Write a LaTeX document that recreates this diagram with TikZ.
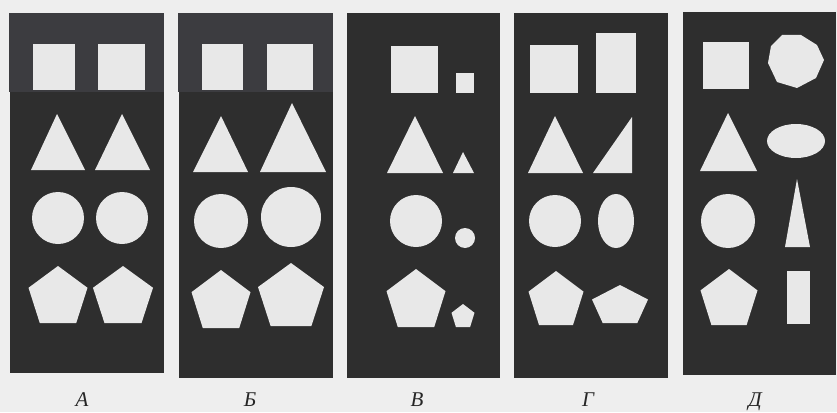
\documentclass[tikz,border=0pt]{standalone}
\usepackage{fontspec}
\newfontfamily\cyrserif{Liberation Serif}
\definecolor{bgcol}{RGB}{238,238,238}
\definecolor{panelcol}{RGB}{46,46,46}
\definecolor{bandcol}{RGB}{60,60,64}
\definecolor{shapecol}{RGB}{232,232,232}
\tikzset{
  panel/.style={fill=panelcol},
  band/.style={fill=bandcol},
  fig/.style={fill=shapecol},
  lbl/.style={font=\cyrserif\itshape\fontsize{21}{21}\selectfont, text=black!85, inner sep=0pt, anchor=base}
}
\newcommand\pentagonfig[4]{% cx, top, halfwidth, bottom
  \fill[fig] (#1,#2) -- ({#1+#3},{#2+0.382*(#4-#2)}) -- ({#1+0.618*#3},#4)
   -- ({#1-0.618*#3},#4) -- ({#1-#3},{#2+0.382*(#4-#2)}) -- cycle;}
\begin{document}
\begin{tikzpicture}[x=1pt,y=-1pt]
\useasboundingbox (0,0) rectangle (837,412);
\fill[bgcol] (0,0) rectangle (837,412);
% panels
\fill[panel] (10,92) rectangle (164,373);
\fill[band] (9,13) rectangle (164,92);
\fill[panel] (179,92) rectangle (333,378);
\fill[band] (178,13) rectangle (333,92);
\fill[panel] (347,13) rectangle (500,378);
\fill[panel] (514,13) rectangle (668,378);
\fill[panel] (683,12) rectangle (836,375);
% ---- Panel A
\fill[fig] (33,44) rectangle (75,90);
\fill[fig] (98,44) rectangle (145,90);
\fill[fig] (57,114) -- (85,170) -- (31,170) -- cycle;
\fill[fig] (122,114) -- (150,170) -- (95,170) -- cycle;
\fill[fig] (58,218) circle (26);
\fill[fig] (122,218) circle (26);
\pentagonfig{58}{266}{29.5}{323}
\pentagonfig{123}{266}{30}{323}
% ---- Panel B
\fill[fig] (202,44) rectangle (243,90);
\fill[fig] (267,44) rectangle (313,90);
\fill[fig] (221,116) -- (248,172) -- (193,172) -- cycle;
\fill[fig] (292,103) -- (326,172) -- (260,172) -- cycle;
\fill[fig] (221,221) circle (27);
\fill[fig] (291,217) circle (30);
\pentagonfig{221}{270}{29.5}{328}
\pentagonfig{291}{263}{33}{326}
% ---- Panel V
\fill[fig] (391,46) rectangle (438,93);
\fill[fig] (456,73) rectangle (474,93);
\fill[fig] (415,116) -- (443,173) -- (387,173) -- cycle;
\fill[fig] (463,152) -- (474,173) -- (453,173) -- cycle;
\fill[fig] (416,221) circle (26);
\fill[fig] (465,238) circle (10);
\pentagonfig{416}{269}{29.5}{327}
\pentagonfig{463}{304}{11.5}{327}
% ---- Panel G
\fill[fig] (530,45) rectangle (578,93);
\fill[fig] (596,33) rectangle (636,93);
\fill[fig] (555,116) -- (583,173) -- (528,173) -- cycle;
\fill[fig] (632,117) -- (632,173) -- (593,173) -- cycle;
\fill[fig] (555,221) circle (26);
\fill[fig] (616,221) ellipse [x radius=18, y radius=27];
\pentagonfig{556}{271}{27.5}{325}
\pentagonfig{620}{285}{28}{323}
% ---- Panel D
\fill[fig] (703,42) rectangle (749,89);
\fill[fig] (782,35) -- (801,35) -- (817,45) -- (824,60) -- (816,78) -- (797,88)
  -- (777,82) -- (768,63) -- (771,46) -- cycle;
\fill[fig] (728,113) -- (757,171) -- (700,171) -- cycle;
\fill[fig] (796,141) ellipse [x radius=29, y radius=17];
\fill[fig] (728,221) circle (27);
\fill[fig] (797,179) -- (810,247) -- (785,247) -- cycle;
\pentagonfig{729}{269}{28.5}{325}
\fill[fig] (787,271) rectangle (810,324);
% labels
\node[lbl] (la) at (82,406) {А};
\node[lbl] (lb) at (250,406) {Б};
\node[lbl] (lv) at (417,406) {В};
\node[lbl] (lg) at (588,406) {Г};
\node[lbl] (ld) at (755,406) {Д};
\end{tikzpicture}
\end{document}
